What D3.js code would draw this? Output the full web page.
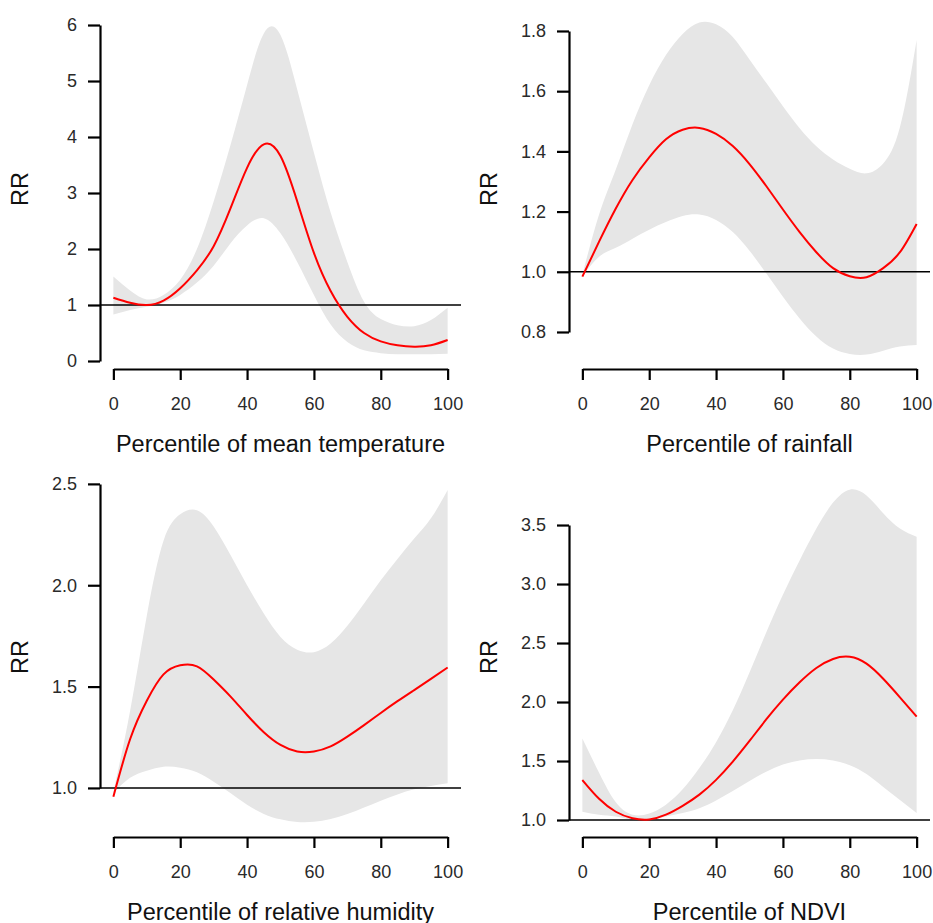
<!DOCTYPE html>
<html>
<head>
<meta charset="utf-8">
<script src="https://cdn.jsdelivr.net/npm/d3@7"></script>
<style>
  body { margin: 0; background: #fff; }
  svg { display: block; font-family: "Liberation Sans", Arial, Helvetica, sans-serif; }
</style>
</head>
<body>
<svg id="chart"></svg>
<script>
// size
const width = 933;
const height = 923;

// plot region of one panel
const regionWidth = 361;
const regionHeight = 360;

// percentile grid shared by every panel
const percentiles = [0, 5, 10, 15, 20, 25, 30, 35, 40, 45, 50, 55, 60, 65, 70, 75, 80, 85, 90, 95, 100];
const xTicks = [0, 20, 40, 60, 80, 100];

// mean temperature
const tempRR   = [1.13, 1.04, 1.00, 1.08, 1.30, 1.62, 2.05, 2.72, 3.45, 3.87, 3.66, 2.85, 1.93, 1.25, 0.79, 0.50, 0.35, 0.28, 0.255, 0.28, 0.375];
const tempLow  = [0.83, 0.91, 0.97, 1.04, 1.18, 1.40, 1.70, 2.10, 2.42, 2.55, 2.28, 1.77, 1.18, 0.65, 0.34, 0.19, 0.14, 0.12, 0.12, 0.12, 0.13];
const tempHigh = [1.51, 1.26, 1.10, 1.18, 1.45, 2.00, 2.85, 3.85, 4.93, 5.85, 5.82, 4.85, 3.72, 2.65, 1.77, 1.06, 0.75, 0.64, 0.62, 0.73, 0.95];
const tempTicks = [0, 1, 2, 3, 4, 5, 6];

// rainfall
const rainRR   = [0.984, 1.10, 1.21, 1.305, 1.38, 1.44, 1.472, 1.478, 1.458, 1.418, 1.358, 1.285, 1.207, 1.132, 1.065, 1.012, 0.985, 0.982, 1.012, 1.065, 1.159];
const rainLow  = [0.985, 1.05, 1.08, 1.11, 1.14, 1.165, 1.185, 1.19, 1.172, 1.132, 1.07, 0.995, 0.917, 0.845, 0.785, 0.745, 0.727, 0.725, 0.738, 0.752, 0.757];
const rainHigh = [0.99, 1.19, 1.34, 1.49, 1.62, 1.72, 1.79, 1.828, 1.822, 1.78, 1.705, 1.628, 1.55, 1.477, 1.417, 1.373, 1.342, 1.327, 1.36, 1.48, 1.77];
const rainTicks = [0.8, 1.0, 1.2, 1.4, 1.6, 1.8];

// relative humidity
const humRR   = [0.957, 1.24, 1.43, 1.56, 1.605, 1.60, 1.535, 1.452, 1.36, 1.275, 1.212, 1.18, 1.18, 1.205, 1.253, 1.31, 1.37, 1.428, 1.483, 1.538, 1.594];
const humLow  = [0.975, 1.05, 1.085, 1.105, 1.10, 1.077, 1.03, 0.975, 0.917, 0.872, 0.845, 0.832, 0.833, 0.847, 0.871, 0.903, 0.937, 0.968, 0.993, 1.01, 1.023];
const humHigh = [0.98, 1.38, 1.85, 2.22, 2.35, 2.37, 2.29, 2.15, 2.00, 1.86, 1.745, 1.682, 1.67, 1.712, 1.80, 1.91, 2.025, 2.13, 2.23, 2.33, 2.47];
const humTicks = [1.0, 1.5, 2.0, 2.5];

// NDVI
const ndviRR   = [1.339, 1.18, 1.07, 1.015, 1.005, 1.045, 1.12, 1.215, 1.34, 1.495, 1.67, 1.852, 2.02, 2.167, 2.288, 2.365, 2.383, 2.325, 2.197, 2.04, 1.876];
const ndviLow  = [1.07, 1.045, 1.03, 1.0, 0.998, 1.03, 1.06, 1.10, 1.165, 1.245, 1.33, 1.41, 1.47, 1.505, 1.517, 1.505, 1.465, 1.39, 1.28, 1.17, 1.06];
const ndviHigh = [1.69, 1.40, 1.15, 1.045, 1.055, 1.13, 1.26, 1.44, 1.66, 1.93, 2.25, 2.59, 2.91, 3.20, 3.47, 3.69, 3.80, 3.75, 3.60, 3.47, 3.40];
const ndviTicks = [1.0, 1.5, 2.0, 2.5, 3.0, 3.5];

// panel setup (region position and y limits)
const panels = [
    { label: "Percentile of mean temperature",  rr: tempRR, low: tempLow, high: tempHigh, ticks: tempTicks, fmt: d3.format("d"),   ylim: [-0.143, 6.286], left: 100, bottom: 369 },
    { label: "Percentile of rainfall",          rr: rainRR, low: rainLow, high: rainHigh, ticks: rainTicks, fmt: d3.format(".1f"), ylim: [0.677, 1.873],  left: 569, bottom: 369 },
    { label: "Percentile of relative humidity", rr: humRR,  low: humLow,  high: humHigh,  ticks: humTicks,  fmt: d3.format(".1f"), ylim: [0.758, 2.534],  left: 100, bottom: 837 },
    { label: "Percentile of NDVI",              rr: ndviRR, low: ndviLow, high: ndviHigh, ticks: ndviTicks, fmt: d3.format(".1f"), ylim: [0.856, 3.907],  left: 569, bottom: 837 }
];

const svg = d3.select("#chart")
    .attr("width", width)
    .attr("height", height);

svg.append("rect")
    .attr("width", width)
    .attr("height", height)
    .attr("fill", "#fff");

panels.forEach(p => {
    const rows = percentiles.map((q, i) => ({ q: q, rr: p.rr[i], low: p.low[i], high: p.high[i] }));

    // R style region: 4% padding on x
    const x = d3.scaleLinear()
        .domain([-4, 104])
        .range([p.left, p.left + regionWidth]);
    const y = d3.scaleLinear()
        .domain(p.ylim)
        .range([p.bottom, p.bottom - regionHeight]);

    const g = svg.append("g");

    // confidence band
    g.append("path")
        .datum(rows)
        .attr("fill", "#e6e6e6")
        .attr("d", d3.area()
            .x(d => x(d.q))
            .y0(d => y(d.low))
            .y1(d => y(d.high))
            .curve(d3.curveNatural));

    // reference line at RR = 1
    g.append("line")
        .attr("x1", x.range()[0])
        .attr("x2", x.range()[1])
        .attr("y1", y(1))
        .attr("y2", y(1))
        .attr("stroke", "#000")
        .attr("stroke-width", 1.5);

    // RR curve
    g.append("path")
        .datum(rows)
        .attr("fill", "none")
        .attr("stroke", "#ff0000")
        .attr("stroke-width", 2)
        .attr("d", d3.line()
            .x(d => x(d.q))
            .y(d => y(d.rr))
            .curve(d3.curveNatural));

    // axes only span the first to last tick
    const ax = x.copy().domain([xTicks[0], xTicks[xTicks.length - 1]])
        .range([x(xTicks[0]), x(xTicks[xTicks.length - 1])]);
    const t0 = p.ticks[0], t1 = p.ticks[p.ticks.length - 1];
    const ay = y.copy().domain([t0, t1]).range([y(t0), y(t1)]);

    const gx = g.append("g")
        .attr("transform", `translate(0,${p.bottom})`)
        .call(d3.axisBottom(ax).tickValues(xTicks).tickSize(11).tickSizeOuter(0).tickPadding(17));
    const gy = g.append("g")
        .attr("transform", `translate(${p.left},0)`)
        .call(d3.axisLeft(ay).tickValues(p.ticks).tickFormat(p.fmt).tickSize(12).tickSizeOuter(0).tickPadding(11));

    [gx, gy].forEach(a => {
        a.attr("font-family", null).attr("font-size", 18);
        a.selectAll("path, line").attr("stroke", "#000").attr("stroke-width", 2.2);
        a.selectAll("text").attr("fill", "#2a2a2a");
    });

    // labels
    g.append("text")
        .attr("text-anchor", "middle")
        .attr("x", p.left + regionWidth / 2)
        .attr("y", p.bottom + 83)
        .attr("font-size", 23.5)
        .attr("fill", "#111")
        .text(p.label);
    g.append("text")
        .attr("text-anchor", "middle")
        .attr("dy", "0.35em")
        .attr("transform", `translate(${p.left - 80},${p.bottom - regionHeight / 2}) rotate(-90)`)
        .attr("font-size", 23.5)
        .attr("fill", "#111")
        .text("RR");
});
</script>
</body>
</html>
